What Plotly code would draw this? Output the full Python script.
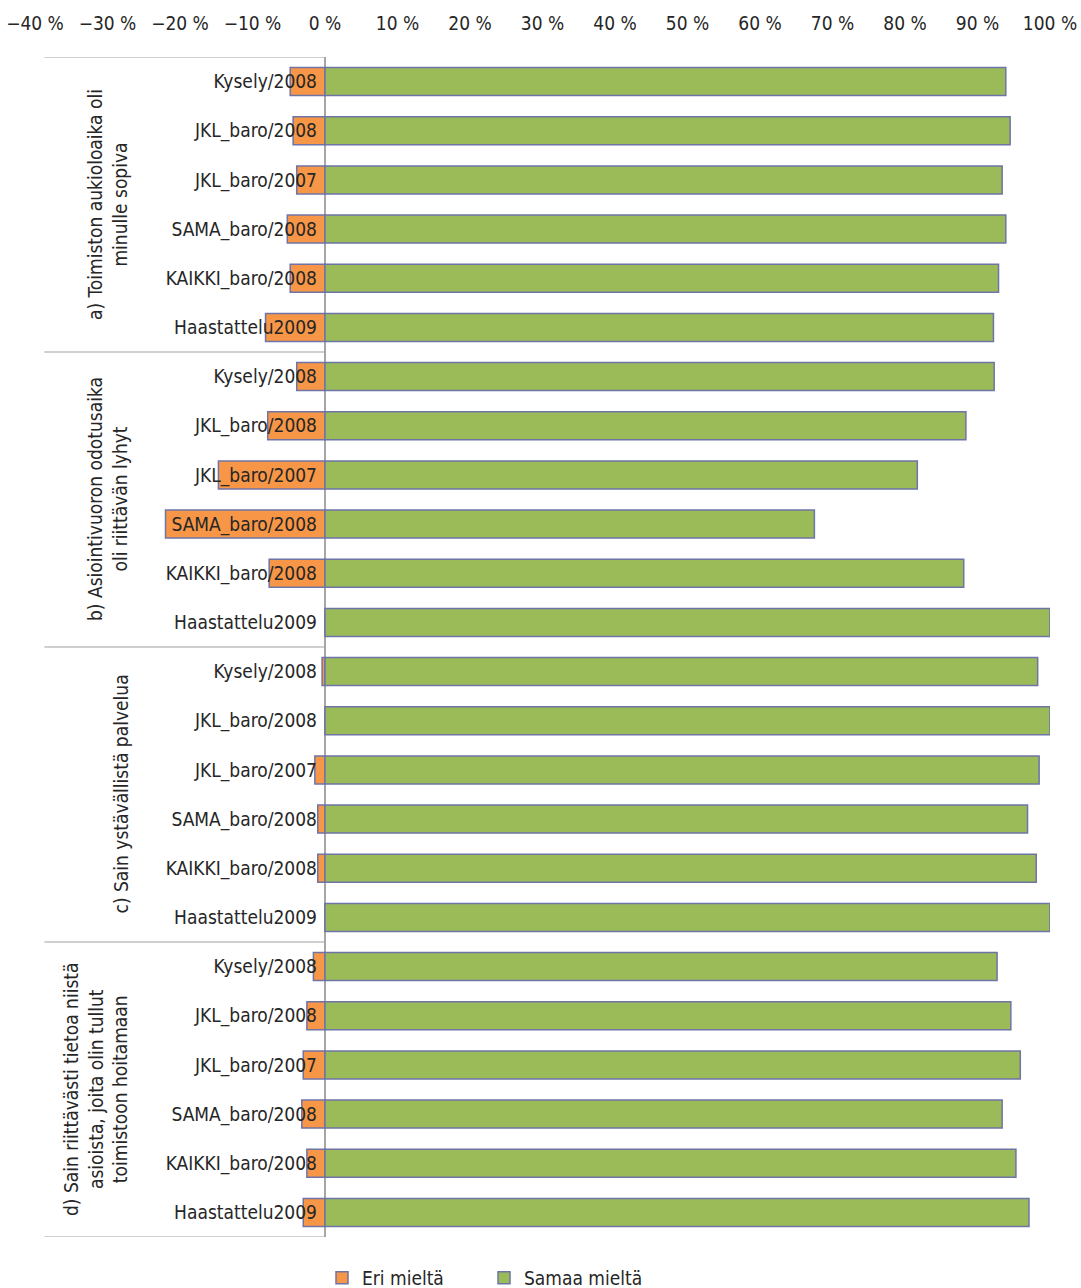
import plotly.graph_objects as go

groups = [
    "a) Toimiston aukioloaika oli<br>minulle sopiva",
    "b) Asiointivuoron odotusaika<br>oli riittävän lyhyt",
    "c) Sain ystävällistä palvelua",
    "d) Sain riittävästi tietoa niistä<br>asioista, joita olin tullut<br>toimistoon hoitamaan",
]
sources = ["Kysely/2008", "JKL_baro/2008", "JKL_baro/2007",
           "SAMA_baro/2008", "KAIKKI_baro/2008", "Haastattelu2009"]

# Eri mieltä (disagree), percent
eri_a = [4.8, 4.4, 3.9, 5.2, 4.8, 8.2]
eri_b = [3.9, 7.9, 14.7, 22.0, 7.7, 0.0]
eri_c = [0.4, 0.0, 1.4, 1.0, 1.0, 0.0]
eri_d = [1.6, 2.5, 3.0, 3.2, 2.5, 3.0]

# Samaa mieltä (agree), percent
samaa_a = [93.9, 94.5, 93.4, 93.9, 92.9, 92.2]
samaa_b = [92.3, 88.4, 81.7, 67.5, 88.1, 100.0]
samaa_c = [98.3, 100.0, 98.5, 96.9, 98.1, 100.0]
samaa_d = [92.7, 94.6, 95.9, 93.4, 95.3, 97.1]

x_min, x_max, x_step = -40, 100, 10

eri = eri_a + eri_b + eri_c + eri_d
samaa = samaa_a + samaa_b + samaa_c + samaa_d
labels = sources * len(groups)
ypos = list(range(len(labels)))

FONT = "DejaVu Sans Condensed, sans-serif"
TXT = "#262626"
ORANGE = "#F79646"
GREEN = "#9BBB59"
EDGE = "#6F74A6"

fig = go.Figure()
fig.add_trace(go.Bar(
    y=ypos, x=[-v for v in eri], orientation="h", name="Eri mieltä",
    marker=dict(color=ORANGE, line=dict(color=EDGE, width=1.5)), width=0.57,
))
fig.add_trace(go.Bar(
    y=ypos, x=samaa, orientation="h", name="Samaa mieltä",
    marker=dict(color=GREEN, line=dict(color=EDGE, width=1.5)), width=0.57,
))

ML, MR, MT, MB = 35, 31, 57, 51
plot_w = 1081 - ML - MR
plot_h = 1288 - MT - MB
zero_pos = (0 - x_min) / (x_max - x_min)

fig.update_layout(
    width=1081, height=1288,
    margin=dict(l=ML, r=MR, t=MT, b=MB, autoexpand=False),
    paper_bgcolor="white", plot_bgcolor="white",
    barmode="relative",
    font=dict(family=FONT, size=19, color=TXT),
    showlegend=True,
    legend=dict(orientation="h", x=(322 - ML) / plot_w, xanchor="left",
                y=-(1278 - (MT + plot_h)) / plot_h, yanchor="middle",
                font=dict(family=FONT, size=19, color=TXT),
                entrywidth=117, entrywidthmode="pixels"),
    xaxis=dict(
        range=[x_min, x_max], side="top", tickmode="linear", tick0=0, dtick=x_step,
        ticksuffix=" %", showgrid=False, showline=False, ticks="",
        ticklabelstandoff=22,
        zeroline=True, zerolinecolor="#A6A6A6", zerolinewidth=1.5,
        tickfont=dict(family=FONT, size=19, color=TXT),
        fixedrange=True,
    ),
    yaxis=dict(
        range=[len(labels) - 0.5, -0.5], tickvals=ypos, ticktext=labels,
        anchor="free", position=zero_pos, side="left",
        showgrid=False, showline=False, zeroline=False, ticks="",
        ticklabelstandoff=8,
        tickfont=dict(family=FONT, size=19, color=TXT),
        fixedrange=True,
    ),
)

# group separator lines
n = len(sources)
left_x = x_min + 1.3
for k in range(len(groups) + 1):
    yb = k * n - 0.5
    fig.add_shape(type="line", xref="x", yref="y", x0=left_x, x1=0, y0=yb, y1=yb,
                  line=dict(color="#BFBFBF", width=1.5), layer="below")

# group labels (rotated)
for k, g in enumerate(groups):
    yc = k * n + (n - 1) / 2
    fig.add_annotation(
        text=g, xref="paper", yref="y", x=(133 - ML) / plot_w, y=yc,
        xanchor="right", yanchor="middle", textangle=-90, showarrow=False,
        font=dict(family=FONT, size=19, color=TXT), align="center",
    )

fig.write_html("out.html")
